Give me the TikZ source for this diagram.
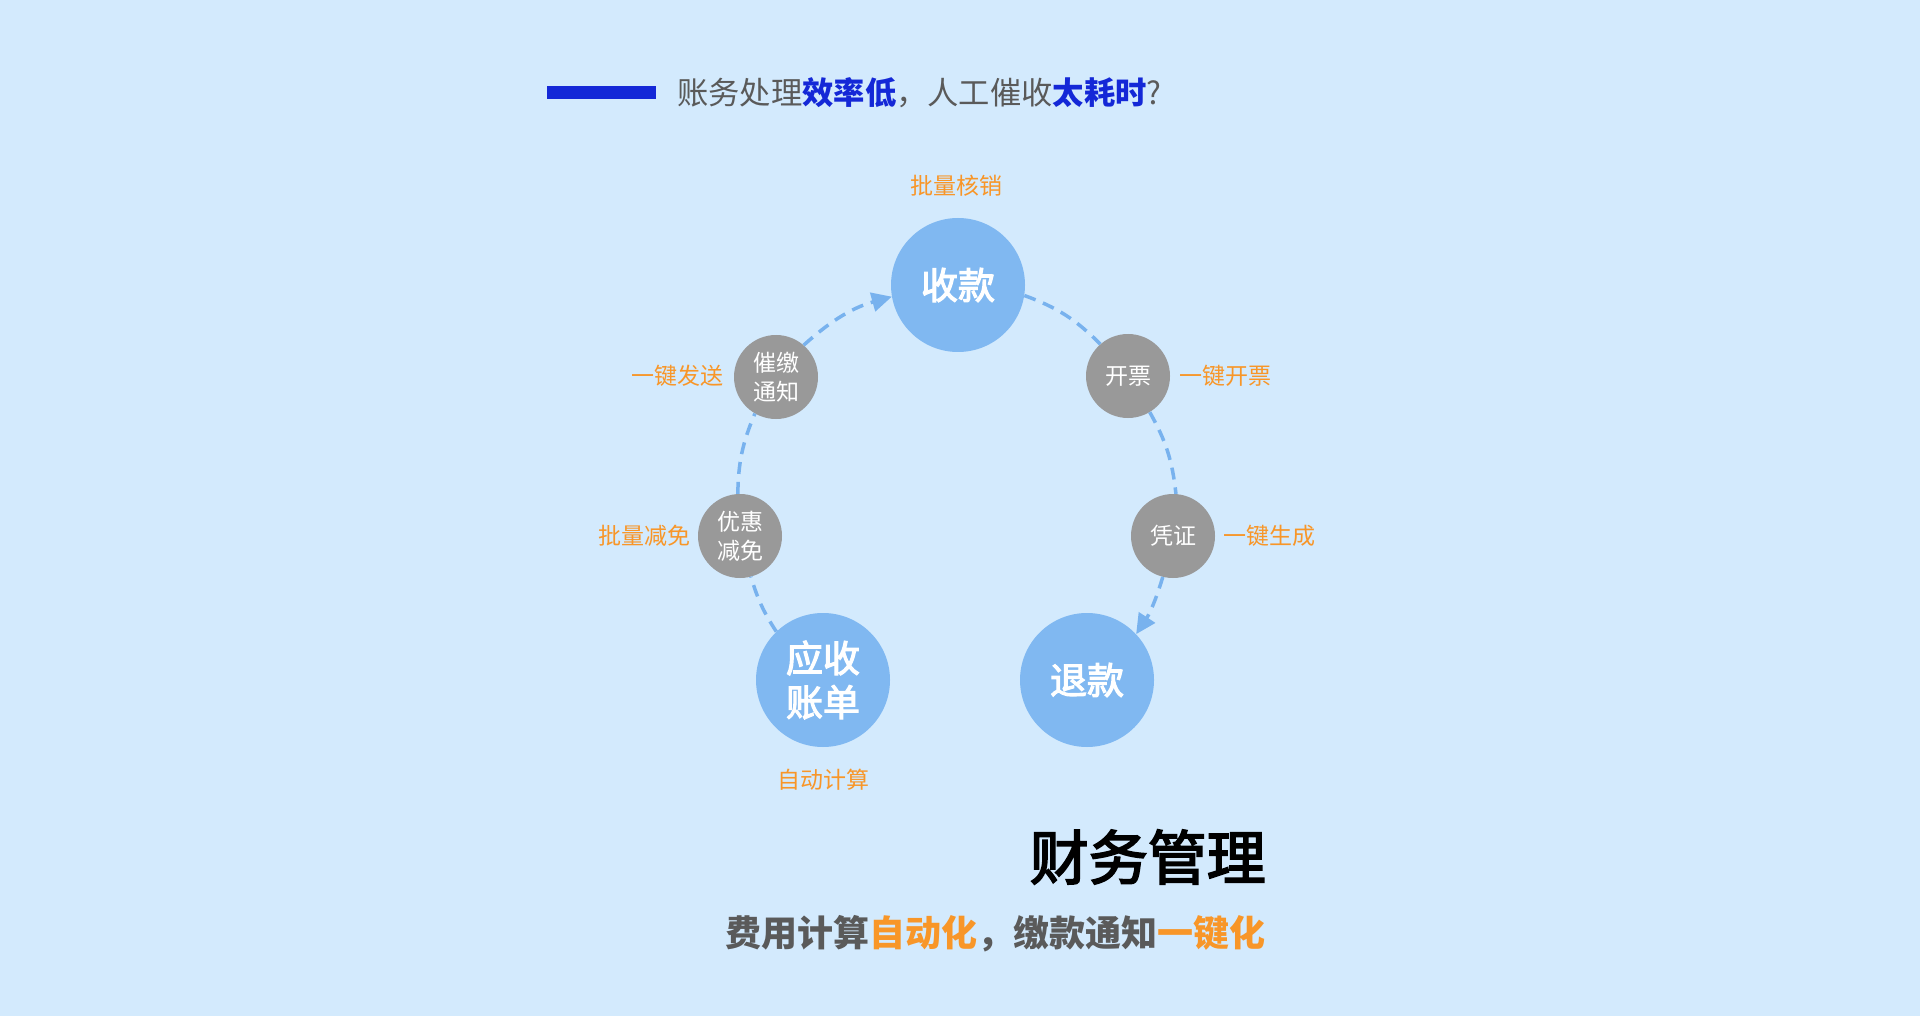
\documentclass[tikz,border=0pt]{standalone}
\usepackage{fontspec}
\setmainfont{Noto Sans CJK SC}
\newfontface\medfont{Noto Sans CJK SC}[FakeBold=3]
\usetikzlibrary{arrows.meta}
\definecolor{bg}{RGB}{211,234,253}
\definecolor{bigc}{RGB}{128,184,241}
\definecolor{smallc}{RGB}{153,153,153}
\definecolor{orng}{RGB}{248,150,40}
\definecolor{ttlblue}{RGB}{20,40,215}
\definecolor{txtgray}{RGB}{90,90,90}
\definecolor{dashc}{RGB}{120,178,238}
\begin{document}
\begin{tikzpicture}[x=1pt,y=1pt,
  bigcirc/.style={circle,fill=bigc,minimum size=134pt,inner sep=0pt,text=white,font=\fontsize{37}{44}\medfont,align=center},
  smallcirc/.style={circle,fill=smallc,minimum size=84pt,inner sep=0pt,text=white,font=\fontsize{23}{29}\selectfont,align=center},
  lbl/.style={text=orng,font=\fontsize{23}{28}\selectfont,inner sep=0pt},
  flow/.style={draw=dashc,line width=3.5pt,dash pattern=on 12pt off 8pt},
  tip/.style={-{Triangle[length=20pt,width=19pt]}},
]
\fill[bg] (0,0) rectangle (1920,-1016);
\useasboundingbox (0,0) rectangle (1920,-1016);

% header
\node[fill=ttlblue,minimum width=109pt,minimum height=13pt,inner sep=0pt,anchor=north west] (bar) at (547,-86) {};
\node[anchor=west,inner sep=0pt,font=\fontsize{31.3}{36}\selectfont,text=txtgray] (title) at (677,-93)
  {账务处理\textcolor{ttlblue}{\bfseries 效率低}，人工催收\textcolor{ttlblue}{\bfseries 太耗时}?};

% circles
\node[bigcirc] (sk) at (958,-285) {收款};
\node[bigcirc] (ys) at (823,-680) {应收\\账单};
\node[bigcirc] (tk) at (1087,-680) {退款};
\node[smallcirc] (cj) at (776,-377) {催缴\\通知};
\node[smallcirc] (yh) at (740,-536) {优惠\\减免};
\node[smallcirc] (kp) at (1128,-376) {开票};
\node[smallcirc] (pz) at (1173,-536) {凭证};

% labels
\node[lbl] (l1) at (956,-186) {批量核销};
\node[lbl,anchor=east] (l2) at (724,-376) {一键发送};
\node[lbl,anchor=east] (l3) at (691,-536) {批量减免};
\node[lbl,anchor=west] (l4) at (1179,-376) {一键开票};
\node[lbl,anchor=west] (l5) at (1223,-536) {一键生成};
\node[lbl] (l6) at (823,-780) {自动计算};

% connectors (arcs of one large circle)
\draw[flow] (ys.134.7) to[bend left=8.1] (yh.-75.8);
\draw[flow] (yh.93.2) to[bend left=10.9] (cj.240.5);
\draw[flow,tip] (cj.49.5) to[bend left=13.2] (sk.190);
\draw[flow] (sk.-9) to[bend left=12.5] (kp.131.9);
\draw[flow] (kp.-59.1) to[bend left=11.5] (pz.86.9);
\draw[flow,tip] (pz.-104.1) to[bend left=8.2] (tk.43);

% footer
\node[anchor=east,inner sep=0pt,font=\fontsize{59}{66}\medfont,text=black] (main) at (1266,-857) {财务管理};
\node[anchor=east,inner sep=0pt,font=\fontsize{36}{42}\selectfont\bfseries,text=txtgray] (sub) at (1266,-934)
  {费用计算\textcolor{orng}{自动化}，缴款通知\textcolor{orng}{一键化}};
\end{tikzpicture}
\end{document}
